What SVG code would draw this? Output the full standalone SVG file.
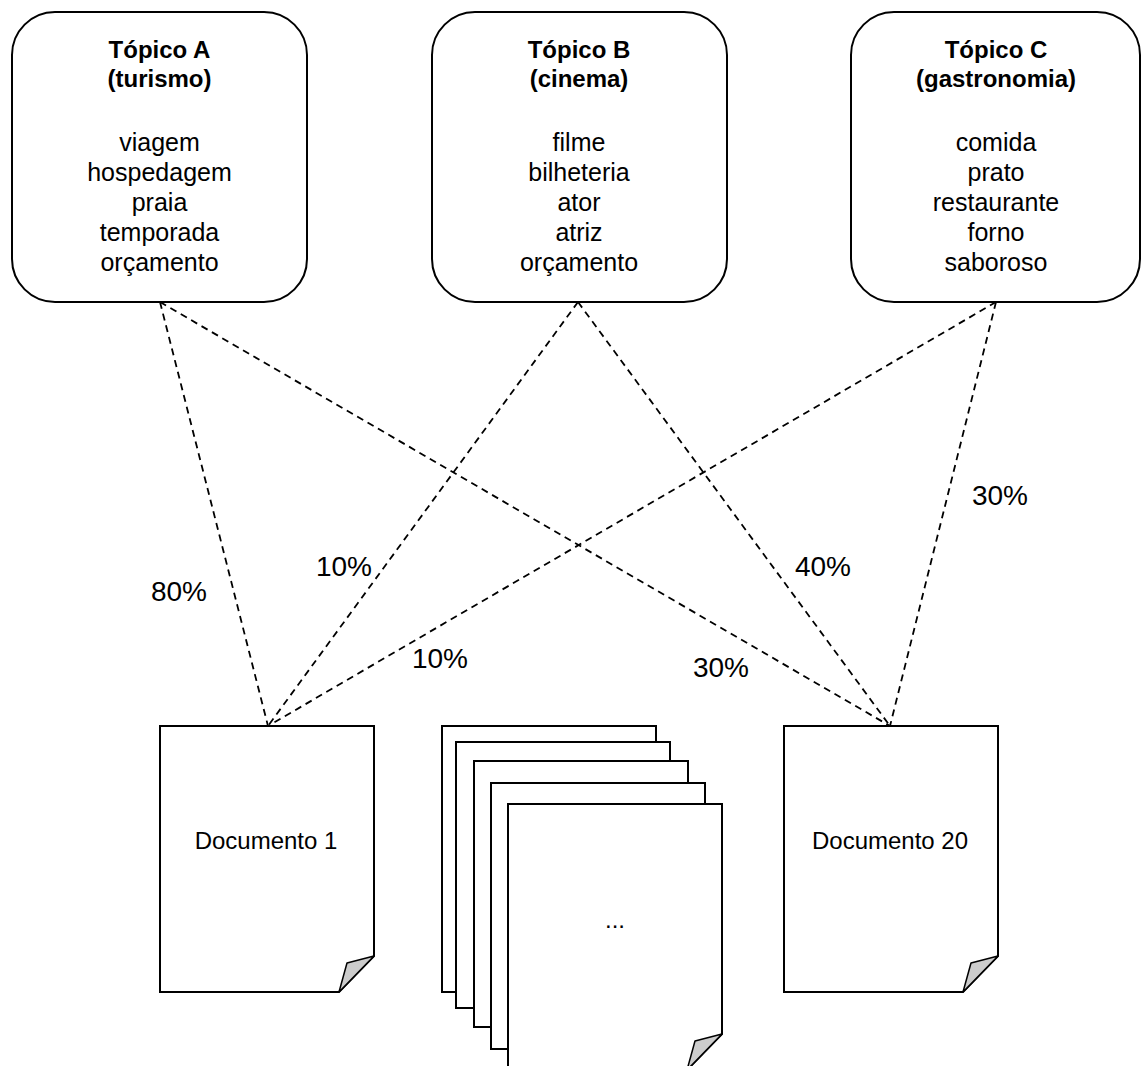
<svg xmlns="http://www.w3.org/2000/svg" width="1142" height="1066" viewBox="0 0 1142 1066">
<style>
.box{fill:#fff;stroke:#000;stroke-width:2}
.doc{fill:#fff;stroke:#000;stroke-width:2}
.fold{fill:#ccc;stroke:#000;stroke-width:1.5;stroke-linejoin:round}
.conn{fill:none;stroke:#000;stroke-width:1.8;stroke-dasharray:7 5}
.t{font-family:"Liberation Sans",Arial,sans-serif;fill:#000;text-anchor:middle}
.title{font-size:24px;font-weight:bold}
.item{font-size:25px}
.pct{font-size:28px}
.dl{font-size:24px}
</style>
<rect width="1142" height="1066" fill="#fff"/>
<g id="connectors">
<line class="conn" x1="160" y1="302" x2="268" y2="726"/>
<line class="conn" x1="160" y1="302" x2="890" y2="726"/>
<line class="conn" x1="578" y1="302" x2="268" y2="726"/>
<line class="conn" x1="578" y1="302" x2="890" y2="726"/>
<line class="conn" x1="996" y1="302" x2="268" y2="726"/>
<line class="conn" x1="996" y1="302" x2="890" y2="726"/>
</g>
<g id="labels">
<text class="t pct" x="179" y="601">80%</text>
<text class="t pct" x="344" y="576">10%</text>
<text class="t pct" x="440" y="668">10%</text>
<text class="t pct" x="823" y="576">40%</text>
<text class="t pct" x="721" y="677">30%</text>
<text class="t pct" x="1000" y="505">30%</text>
</g>
<g id="topicA">
<rect class="box" x="12" y="12" width="295" height="290" rx="43" ry="43"/>
<text class="t title" x="159.5" y="58">Tópico A</text>
<text class="t title" x="159.5" y="87">(turismo)</text>
<text class="t item" x="159.5" y="151">viagem</text>
<text class="t item" x="159.5" y="181">hospedagem</text>
<text class="t item" x="159.5" y="211">praia</text>
<text class="t item" x="159.5" y="241">temporada</text>
<text class="t item" x="159.5" y="271">orçamento</text>
</g>
<g id="topicB">
<rect class="box" x="432" y="12" width="295" height="290" rx="43" ry="43"/>
<text class="t title" x="579" y="58">Tópico B</text>
<text class="t title" x="579" y="87">(cinema)</text>
<text class="t item" x="579" y="151">filme</text>
<text class="t item" x="579" y="181">bilheteria</text>
<text class="t item" x="579" y="211">ator</text>
<text class="t item" x="579" y="241">atriz</text>
<text class="t item" x="579" y="271">orçamento</text>
</g>
<g id="topicC">
<rect class="box" x="851" y="12" width="289" height="290" rx="43" ry="43"/>
<text class="t title" x="996" y="58">Tópico C</text>
<text class="t title" x="996" y="87">(gastronomia)</text>
<text class="t item" x="996" y="151">comida</text>
<text class="t item" x="996" y="181">prato</text>
<text class="t item" x="996" y="211">restaurante</text>
<text class="t item" x="996" y="241">forno</text>
<text class="t item" x="996" y="271">saboroso</text>
</g>
<g id="doc1">
<path class="doc" d="M160,726 H374 V956 L339,992 H160 Z"/>
<polygon class="fold" points="339,992 347,963 374,956"/>
<text class="t dl" x="266" y="849">Documento 1</text>
</g>
<g id="docStack">
<path class="doc" d="M442,726 H656 V956 L621,992 H442 Z"/>
<path class="doc" d="M456,742 H670 V972 L635,1008 H456 Z"/>
<path class="doc" d="M474,761 H688 V991 L653,1027 H474 Z"/>
<path class="doc" d="M491,783 H705 V1013 L670,1049 H491 Z"/>
<path class="doc" d="M508,804 H722 V1034 L687,1070 H508 Z"/>
<polygon class="fold" points="687,1070 695,1041 722,1034"/>
<text class="t dl" x="615" y="928">...</text>
</g>
<g id="doc20">
<path class="doc" d="M784,726 H998 V956 L963,992 H784 Z"/>
<polygon class="fold" points="963,992 971,963 998,956"/>
<text class="t dl" x="890" y="849">Documento 20</text>
</g>
</svg>
